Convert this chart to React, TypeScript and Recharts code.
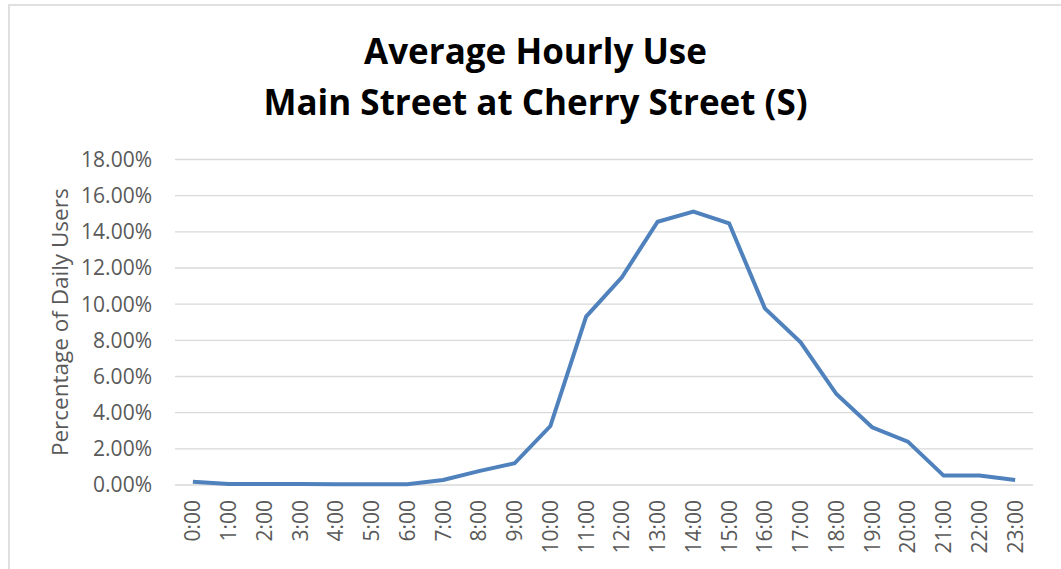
import React from 'react';
import { LineChart, Line, XAxis, YAxis, CartesianGrid } from 'recharts';

const hours = [
  '0:00', '1:00', '2:00', '3:00', '4:00', '5:00', '6:00', '7:00', '8:00', '9:00', '10:00', '11:00',
  '12:00', '13:00', '14:00', '15:00', '16:00', '17:00', '18:00', '19:00', '20:00', '21:00', '22:00', '23:00',
];
const dailyUsePct = [
  0.18, 0.05, 0.06, 0.06, 0.04, 0.04, 0.04, 0.28, 0.77, 1.2, 3.26, 9.31,
  11.49, 14.56, 15.12, 14.47, 9.77, 7.89, 5.03, 3.19, 2.4, 0.52, 0.52, 0.28,
];
const yTicks = [0, 2, 4, 6, 8, 10, 12, 14, 16, 18];
const titleLines = ['Average Hourly Use', 'Main Street at Cherry Street (S)'];
const yAxisTitle = 'Percentage of Daily Users';

const data = hours.map((h, i) => ({ hour: h, pct: dailyUsePct[i] }));

const FONT = '"Open Sans", Lato, sans-serif';
const TICK_COLOR = '#595959';
const TICK_SIZE = 21;

const XTick = (props: any) => {
  const { x, y, payload } = props;
  return (
    <text
      x={x}
      y={y}
      transform={`rotate(-90, ${x}, ${y})`}
      textAnchor="end"
      dy="0.36em"
      fill={TICK_COLOR}
      fontSize={TICK_SIZE}
      fontFamily={FONT}
    >
      {payload.value}
    </text>
  );
};

const YLabel = (props: any) => {
  const vb = props.viewBox || { x: 0, y: 159.5, width: 175, height: 325.5 };
  const cx = 60;
  const cy = vb.y + vb.height / 2;
  return (
    <text
      x={cx}
      y={cy}
      transform={`rotate(-90, ${cx}, ${cy})`}
      textAnchor="middle"
      dy="0.36em"
      fill={TICK_COLOR}
      fontSize={22.5}
      fontFamily={FONT}
    >
      {yAxisTitle}
    </text>
  );
};

export default function App() {
  return (
    <div style={{ position: 'absolute', left: 0, top: 0, width: 1061, height: 569, overflow: 'hidden', background: '#fff' }}>
      <div
        style={{
          position: 'absolute',
          left: 8,
          top: 4,
          width: 1100,
          height: 600,
          border: '2px solid #e0e0e0',
          boxSizing: 'border-box',
        }}
      />
      <svg width={1061} height={140} style={{ position: 'absolute', left: 0, top: 0 }}>
        <text x={535.5} y={64} textAnchor="middle" fontSize={35} fontWeight={700} fontFamily={FONT} fill="#000">
          {titleLines[0]}
        </text>
        <text x={535.5} y={115} textAnchor="middle" fontSize={35} fontWeight={700} fontFamily={FONT} fill="#000">
          {titleLines[1]}
        </text>
      </svg>
      <div style={{ position: 'absolute', left: 0, top: 0 }}>
        <LineChart width={1061} height={569} data={data} margin={{ top: 159.5, right: 28, bottom: 0, left: 0 }}>
          <CartesianGrid vertical={false} stroke="#d9d9d9" strokeWidth={1.4} />
          <XAxis
            dataKey="hour"
            height={84}
            interval={0}
            axisLine={false}
            tickLine={false}
            tickSize={0}
            tickMargin={15}
            padding={{ left: 17.875, right: 17.875 }}
            tick={<XTick />}
          />
          <YAxis
            width={175}
            domain={[0, 18]}
            ticks={yTicks}
            interval={0}
            axisLine={false}
            tickLine={false}
            tickSize={0}
            tickMargin={23}
            tickFormatter={(v: number) => v.toFixed(2) + '%'}
            tick={{ fill: TICK_COLOR, fontSize: TICK_SIZE, fontFamily: FONT }}
            label={<YLabel />}
          />
          <Line
            type="linear"
            dataKey="pct"
            stroke="#4F81BD"
            strokeWidth={4}
            dot={false}
            isAnimationActive={false}
          />
        </LineChart>
      </div>
    </div>
  );
}
